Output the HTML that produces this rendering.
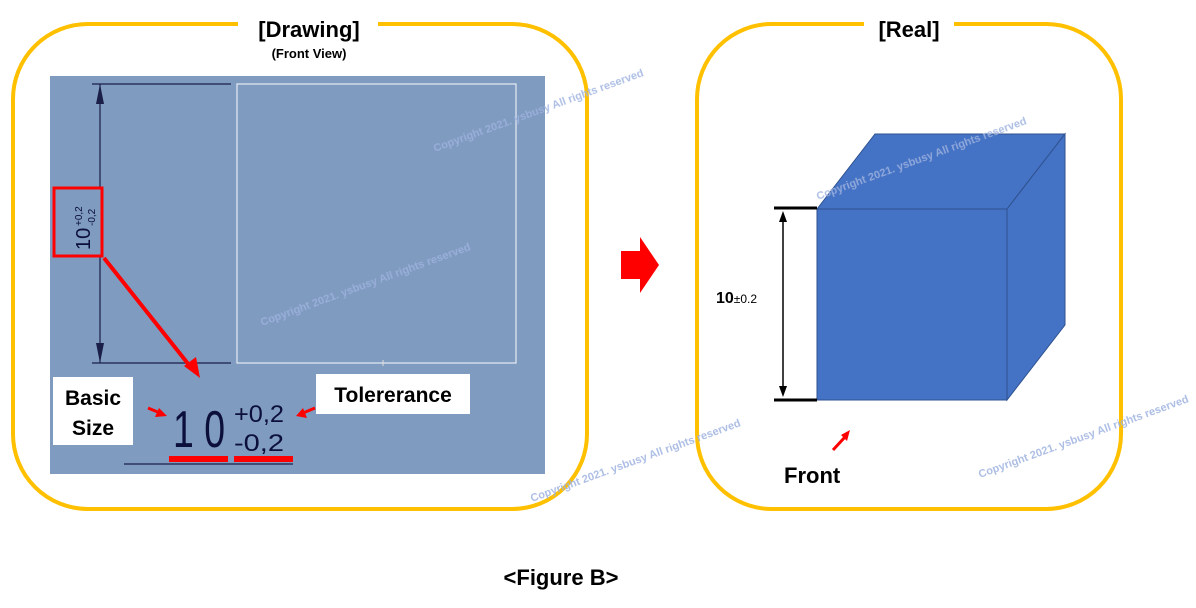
<!DOCTYPE html>
<html><head><meta charset="utf-8"><style>
html,body{margin:0;padding:0;background:#fff;}
svg{display:block;}
text{font-family:"Liberation Sans","Noto Sans CJK KR",sans-serif;}
</style></head><body>
<svg width="1196" height="608" viewBox="0 0 1196 608" xmlns="http://www.w3.org/2000/svg">
<!-- left panel -->
<rect x="13" y="24" width="574" height="485" rx="75" ry="75" fill="none" stroke="#FFC000" stroke-width="4"/>
<rect x="238" y="12" width="140" height="26" fill="#fff"/>
<text x="309" y="37" font-size="22" font-weight="bold" text-anchor="middle">[Drawing]</text>
<text x="309" y="58" font-size="13" font-weight="bold" text-anchor="middle">(Front View)</text>
<rect x="50" y="76" width="495" height="398" fill="#7F9BBF"/>
<rect x="237" y="84" width="279" height="279" fill="none" stroke="#E6ECF4" stroke-width="1.2"/>
<line x1="92" y1="84" x2="231" y2="84" stroke="#1a1f4a" stroke-width="1.2"/>
<line x1="92" y1="363" x2="231" y2="363" stroke="#1a1f4a" stroke-width="1.2"/>
<line x1="100" y1="84" x2="100" y2="363" stroke="#1a1f4a" stroke-width="1.2"/>
<polygon points="100,84 96,104 104,104" fill="#1a1f4a"/>
<polygon points="100,363 96,343 104,343" fill="#1a1f4a"/>
<line x1="383" y1="360" x2="383" y2="366" stroke="#ddd" stroke-width="1"/>
<rect x="54" y="188" width="48" height="68" fill="#7F9BBF" stroke="#f00" stroke-width="3"/>
<text transform="translate(90,250) rotate(-90)" font-size="20" fill="#0b0f3a" font-family="Liberation Sans Narrow, Liberation Sans, sans-serif">10</text>
<text transform="translate(82,226) rotate(-90)" font-size="10" fill="#0b0f3a">+0,2</text>
<text transform="translate(95,226) rotate(-90)" font-size="10" fill="#0b0f3a">-0,2</text>
<line x1="104" y1="258" x2="193" y2="370" stroke="#f00" stroke-width="4"/>
<polygon points="200,378 184,366 196,357" fill="#f00"/>
<rect x="53" y="377" width="80" height="68" fill="#fff"/>
<text x="93" y="405" font-size="21" font-weight="bold" text-anchor="middle">Basic</text>
<text x="93" y="435" font-size="21" font-weight="bold" text-anchor="middle">Size</text>
<rect x="316" y="374" width="154" height="40" fill="#fff"/>
<text x="393" y="402" font-size="21" font-weight="bold" text-anchor="middle">Tolererance</text>
<line x1="148" y1="408" x2="160" y2="413" stroke="#f00" stroke-width="3"/>
<polygon points="167,416 155,417 159,408" fill="#f00"/>
<line x1="315" y1="408" x2="303" y2="413" stroke="#f00" stroke-width="3"/>
<polygon points="296,416 307,418 303,408" fill="#f00"/>
<text x="173" y="447" font-size="52" fill="#0b0f3a" font-family="Liberation Sans Narrow, Liberation Sans, sans-serif" textLength="52" lengthAdjust="spacingAndGlyphs">1 0</text>
<text x="234" y="422" font-size="24" fill="#0b0f3a" textLength="50" lengthAdjust="spacingAndGlyphs">+0,2</text>
<text x="234" y="451" font-size="24" fill="#0b0f3a" textLength="50" lengthAdjust="spacingAndGlyphs">-0,2</text>
<rect x="169" y="456" width="59" height="6" fill="#f00"/>
<rect x="234" y="456" width="59" height="6" fill="#f00"/>
<line x1="124" y1="464" x2="293" y2="464" stroke="#1a1f4a" stroke-width="1.2"/>
<!-- arrow -->
<polygon points="621,251 640,251 640,237 659,265 640,293 640,279 621,279" fill="#f00"/>
<!-- right panel -->
<rect x="697" y="24" width="424" height="485" rx="75" ry="75" fill="none" stroke="#FFC000" stroke-width="4"/>
<rect x="864" y="12" width="90" height="26" fill="#fff"/>
<text x="909" y="37" font-size="22" font-weight="bold" text-anchor="middle">[Real]</text>
<polygon points="817,209 875,134 1065,134 1007,209" fill="#4472C4" stroke="#2F528F" stroke-width="1"/>
<polygon points="1007,209 1065,134 1065,325 1007,400" fill="#4472C4" stroke="#2F528F" stroke-width="1"/>
<rect x="817" y="209" width="190" height="191" fill="#4472C4" stroke="#2F528F" stroke-width="1"/>
<line x1="774" y1="208" x2="817" y2="208" stroke="#000" stroke-width="3"/>
<line x1="774" y1="400" x2="817" y2="400" stroke="#000" stroke-width="3"/>
<line x1="783" y1="215" x2="783" y2="393" stroke="#000" stroke-width="1.5"/>
<polygon points="783,211 779,222 787,222" fill="#000"/>
<polygon points="783,397 779,386 787,386" fill="#000"/>
<text x="716" y="303" font-size="16" font-weight="bold">10<tspan font-size="12" font-weight="normal">±0.2</tspan></text>
<line x1="833" y1="450" x2="845" y2="437" stroke="#f00" stroke-width="3"/>
<polygon points="850,430 841,435 847,441" fill="#f00"/>
<text x="784" y="483" font-size="22" font-weight="bold">Front</text>
<!-- watermarks -->
<g font-size="11" font-weight="bold" fill="#9FB3E0" opacity="0.85">
<text transform="translate(435,152) rotate(-20)">Copyright 2021. ysbusy All rights reserved</text>
<text transform="translate(262,326) rotate(-20)">Copyright 2021. ysbusy All rights reserved</text>
<text transform="translate(532,502) rotate(-20)">Copyright 2021. ysbusy All rights reserved</text>
<text transform="translate(818,200) rotate(-20)">Copyright 2021. ysbusy All rights reserved</text>
<text transform="translate(980,478) rotate(-20)">Copyright 2021. ysbusy All rights reserved</text>
</g>
<text x="561" y="585" font-size="22" font-weight="bold" text-anchor="middle">&lt;Figure B&gt;</text>
</svg>
</body></html>
